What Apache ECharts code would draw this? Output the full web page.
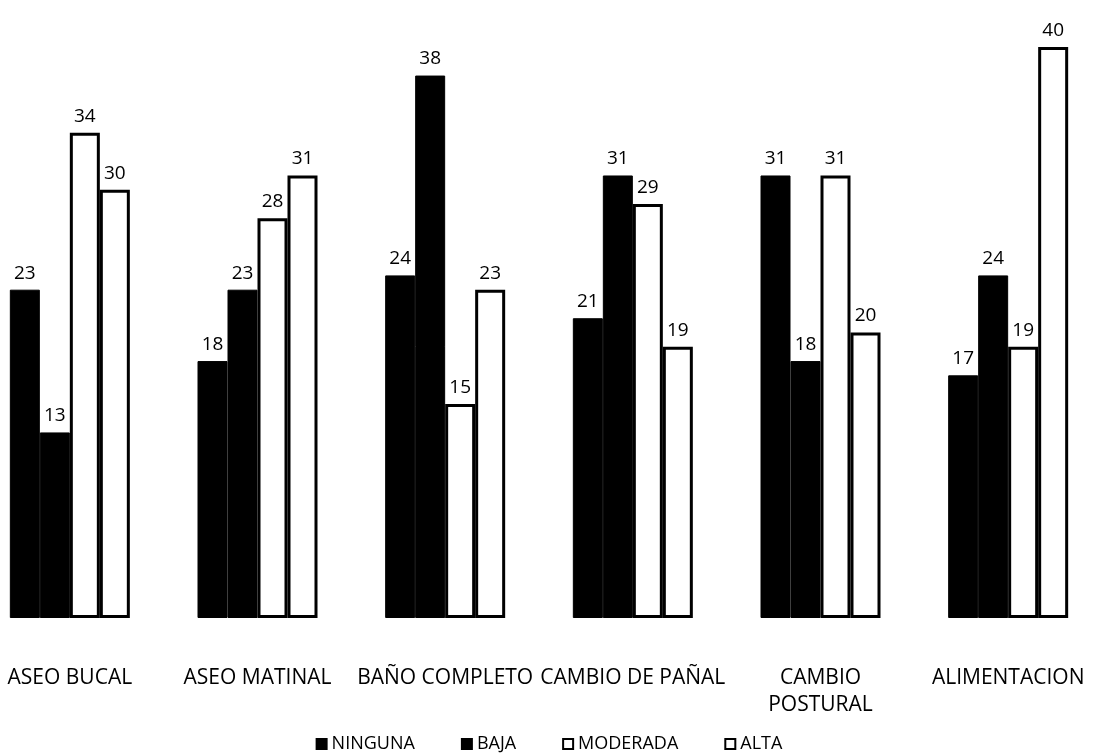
<!DOCTYPE html>
<html>
<head>
<meta charset="utf-8">
<script src="https://cdn.jsdelivr.net/npm/echarts@6/dist/echarts.min.js"></script>
<style>html,body{margin:0;padding:0;background:#fff}#c{width:1098px;height:754px}</style>
</head>
<body>
<div id="c"></div>
<script>
const categories = ['ASEO BUCAL', 'ASEO MATINAL', 'BAÑO COMPLETO', 'CAMBIO DE PAÑAL', 'CAMBIO\nPOSTURAL', 'ALIMENTACION'];
const ninguna = [23, 18, 24, 21, 31, 17];
const baja = [13, 23, 38, 31, 18, 24];
const moderada = [34, 28, 15, 29, 31, 19];
const alta = [30, 31, 23, 19, 20, 40];

const font = '"Open Sans", "Liberation Sans", sans-serif';
function mk(name, data, filled) {
  return {
    name: name, type: 'bar', data: data, barWidth: 30, barGap: '0%',
    itemStyle: filled ? {color: '#000', borderColor: '#000', borderWidth: 1}
                      : {color: '#fff', borderColor: '#000', borderWidth: 3},
    label: {show: true, position: 'top', distance: 7, color: '#000', fontSize: 19, fontFamily: font}
  };
}
const chart = echarts.init(document.getElementById('c'));
chart.setOption({
  animation: false,
  backgroundColor: '#fff',
  grid: {left: -24, right: -4, top: 47, bottom: 136, outerBoundsMode: 'none', containLabel: false},
  legend: {
    bottom: -4, left: 'center', itemGap: 46, itemWidth: 10, itemHeight: 10, icon: 'rect',
    textStyle: {color: '#000', fontSize: 18, fontFamily: font},
    data: [
      {name: 'NINGUNA', itemStyle: {color: '#000'}},
      {name: 'BAJA', itemStyle: {color: '#000'}},
      {name: 'MODERADA', itemStyle: {color: '#fff', borderColor: '#000', borderWidth: 2}},
      {name: 'ALTA', itemStyle: {color: '#fff', borderColor: '#000', borderWidth: 2}}
    ]
  },
  xAxis: {
    type: 'category', data: categories,
    axisLine: {show: false}, axisTick: {show: false},
    axisLabel: {color: '#000', fontSize: 21, fontFamily: font, margin: 47, lineHeight: 27, verticalAlign: 'top', interval: 0}
  },
  yAxis: {type: 'value', min: 0, max: 40, show: false, splitLine: {show: false}},
  series: [mk('NINGUNA', ninguna, true), mk('BAJA', baja, true), mk('MODERADA', moderada, false), mk('ALTA', alta, false)]
});
</script>
</body>
</html>
